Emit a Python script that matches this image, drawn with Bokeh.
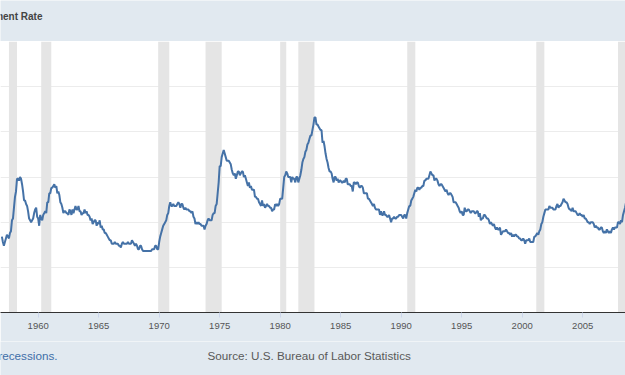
from bokeh.plotting import figure
from bokeh.layouts import column
from bokeh.models import Range1d, FixedTicker, Label
from bokeh.embed import file_html
from bokeh.resources import INLINE

title_text = "Civilian Unemployment Rate"
note_text = "Shaded areas indicate U.S. recessions."
source_text = "Source: U.S. Bureau of Labor Statistics"

# Monthly civilian unemployment rate (%), starting January 1957
first_year = 1957
unrate = [
    4.2, 3.9, 3.7, 3.9, 4.1, 4.3, 4.2, 4.1, 4.4, 4.5, 5.1, 5.2,   # 1957
    5.8, 6.4, 6.7, 7.4, 7.4, 7.3, 7.5, 7.4, 7.1, 6.7, 6.2, 6.2,   # 1958
    6.0, 5.9, 5.6, 5.2, 5.1, 5.0, 5.1, 5.2, 5.5, 5.7, 5.8, 5.3,   # 1959
    5.2, 4.8, 5.4, 5.2, 5.1, 5.4, 5.5, 5.6, 5.5, 6.1, 6.1, 6.6,   # 1960
    6.6, 6.9, 6.9, 7.0, 7.1, 6.9, 7.0, 6.6, 6.7, 6.5, 6.1, 6.0,   # 1961
    5.8, 5.5, 5.6, 5.6, 5.5, 5.5, 5.4, 5.7, 5.6, 5.4, 5.7, 5.5,   # 1962
    5.7, 5.9, 5.7, 5.7, 5.9, 5.6, 5.6, 5.4, 5.5, 5.5, 5.7, 5.5,   # 1963
    5.6, 5.4, 5.4, 5.3, 5.1, 5.2, 4.9, 5.0, 5.1, 5.1, 4.8, 5.0,   # 1964
    4.9, 5.1, 4.7, 4.8, 4.6, 4.6, 4.4, 4.4, 4.3, 4.2, 4.1, 4.0,   # 1965
    4.0, 3.8, 3.8, 3.8, 3.9, 3.8, 3.8, 3.8, 3.7, 3.7, 3.6, 3.8,   # 1966
    3.9, 3.8, 3.8, 3.8, 3.8, 3.9, 3.8, 3.8, 3.8, 4.0, 3.9, 3.8,   # 1967
    3.7, 3.8, 3.7, 3.5, 3.5, 3.7, 3.7, 3.5, 3.4, 3.4, 3.4, 3.4,   # 1968
    3.4, 3.4, 3.4, 3.4, 3.4, 3.5, 3.5, 3.5, 3.7, 3.7, 3.5, 3.5,   # 1969
    3.9, 4.2, 4.4, 4.6, 4.8, 4.9, 5.0, 5.1, 5.4, 5.5, 5.9, 6.1,   # 1970
    5.9, 5.9, 6.0, 5.9, 5.9, 5.9, 6.0, 6.1, 6.0, 5.8, 6.0, 6.0,   # 1971
    5.8, 5.7, 5.8, 5.7, 5.7, 5.7, 5.6, 5.6, 5.5, 5.6, 5.3, 5.2,   # 1972
    4.9, 5.0, 4.9, 5.0, 4.9, 4.9, 4.8, 4.8, 4.8, 4.6, 4.8, 4.9,   # 1973
    5.1, 5.2, 5.1, 5.1, 5.1, 5.4, 5.5, 5.5, 5.9, 6.0, 6.6, 7.2,   # 1974
    8.1, 8.1, 8.6, 8.8, 9.0, 8.8, 8.6, 8.4, 8.4, 8.4, 8.3, 8.2,   # 1975
    7.9, 7.7, 7.6, 7.7, 7.4, 7.6, 7.8, 7.8, 7.6, 7.7, 7.8, 7.8,   # 1976
    7.5, 7.6, 7.4, 7.2, 7.0, 7.2, 6.9, 7.0, 6.8, 6.8, 6.8, 6.4,   # 1977
    6.4, 6.3, 6.3, 6.1, 6.0, 5.9, 6.2, 5.9, 6.0, 5.8, 5.9, 6.0,   # 1978
    5.9, 5.9, 5.8, 5.8, 5.6, 5.7, 5.7, 6.0, 5.9, 6.0, 5.9, 6.0,   # 1979
    6.3, 6.3, 6.3, 6.9, 7.5, 7.6, 7.8, 7.7, 7.5, 7.5, 7.5, 7.2,   # 1980
    7.5, 7.4, 7.4, 7.2, 7.5, 7.5, 7.2, 7.4, 7.6, 7.9, 8.3, 8.5,   # 1981
    8.6, 8.9, 9.0, 9.3, 9.4, 9.6, 9.8, 9.8, 10.1, 10.4, 10.8, 10.8,  # 1982
    10.4, 10.4, 10.3, 10.2, 10.1, 10.1, 9.4, 9.5, 9.2, 8.8, 8.5, 8.3,  # 1983
    8.0, 7.8, 7.8, 7.7, 7.4, 7.2, 7.5, 7.5, 7.3, 7.4, 7.2, 7.3,   # 1984
    7.3, 7.2, 7.2, 7.3, 7.2, 7.4, 7.4, 7.1, 7.1, 7.1, 7.0, 7.0,   # 1985
    6.7, 7.2, 7.2, 7.1, 7.2, 7.2, 7.0, 6.9, 7.0, 7.0, 6.9, 6.6,   # 1986
    6.6, 6.6, 6.6, 6.3, 6.3, 6.2, 6.1, 6.0, 5.9, 6.0, 5.8, 5.7,   # 1987
    5.7, 5.7, 5.7, 5.4, 5.6, 5.4, 5.4, 5.6, 5.4, 5.4, 5.3, 5.3,   # 1988
    5.4, 5.2, 5.0, 5.2, 5.2, 5.3, 5.2, 5.2, 5.3, 5.3, 5.4, 5.4,   # 1989
    5.4, 5.3, 5.2, 5.4, 5.4, 5.2, 5.5, 5.7, 5.9, 5.9, 6.2, 6.3,   # 1990
    6.4, 6.6, 6.8, 6.7, 6.9, 6.9, 6.8, 6.9, 6.9, 7.0, 7.0, 7.3,   # 1991
    7.3, 7.4, 7.4, 7.4, 7.6, 7.8, 7.7, 7.6, 7.6, 7.3, 7.4, 7.4,   # 1992
    7.3, 7.1, 7.0, 7.1, 7.1, 7.0, 6.9, 6.8, 6.7, 6.8, 6.6, 6.5,   # 1993
    6.6, 6.6, 6.5, 6.4, 6.1, 6.1, 6.1, 6.0, 5.9, 5.8, 5.6, 5.5,   # 1994
    5.6, 5.4, 5.4, 5.8, 5.6, 5.6, 5.7, 5.7, 5.6, 5.5, 5.6, 5.6,   # 1995
    5.6, 5.5, 5.5, 5.6, 5.6, 5.3, 5.5, 5.1, 5.2, 5.2, 5.4, 5.4,   # 1996
    5.3, 5.2, 5.2, 5.1, 4.9, 5.0, 4.9, 4.8, 4.9, 4.7, 4.6, 4.7,   # 1997
    4.6, 4.6, 4.7, 4.3, 4.4, 4.5, 4.5, 4.5, 4.6, 4.5, 4.4, 4.4,   # 1998
    4.3, 4.4, 4.2, 4.3, 4.2, 4.3, 4.3, 4.2, 4.2, 4.1, 4.1, 4.0,   # 1999
    4.0, 4.1, 4.0, 3.8, 4.0, 4.0, 4.0, 4.1, 3.9, 3.9, 3.9, 3.9,   # 2000
    4.2, 4.2, 4.3, 4.4, 4.3, 4.5, 4.6, 4.9, 5.0, 5.3, 5.5, 5.7,   # 2001
    5.7, 5.7, 5.7, 5.9, 5.8, 5.8, 5.8, 5.7, 5.7, 5.7, 5.9, 6.0,   # 2002
    5.8, 5.9, 5.9, 6.0, 6.1, 6.3, 6.2, 6.1, 6.1, 6.0, 5.8, 5.7,   # 2003
    5.7, 5.6, 5.8, 5.6, 5.6, 5.6, 5.5, 5.4, 5.4, 5.5, 5.4, 5.4,   # 2004
    5.3, 5.4, 5.2, 5.2, 5.1, 5.0, 5.0, 4.9, 5.0, 5.0, 5.0, 4.9,   # 2005
    4.7, 4.8, 4.7, 4.7, 4.6, 4.6, 4.7, 4.7, 4.5, 4.4, 4.5, 4.4,   # 2006
    4.6, 4.5, 4.4, 4.5, 4.4, 4.6, 4.7, 4.6, 4.7, 4.7, 4.7, 5.0,   # 2007
    5.0, 4.9, 5.1, 5.0, 5.4, 5.6, 5.8, 6.1, 6.1, 6.5, 6.8, 7.3,   # 2008
]
months = [first_year + i / 12 for i in range(len(unrate))]

# NBER recessions (start / end, fractional years)
rec_start = [1957 + 7/12, 1960 + 3/12, 1969 + 11/12, 1973 + 10/12, 1980.0,
             1981 + 6/12, 1990 + 6/12, 2001 + 2/12, 2007 + 11/12]
rec_end = [1958 + 3/12, 1961 + 1/12, 1970 + 10/12, 1975 + 2/12, 1980 + 6/12,
           1982 + 10/12, 1991 + 2/12, 2001 + 10/12, 2009 + 5/12]

x_ticks = [1960, 1965, 1970, 1975, 1980, 1985, 1990, 1995, 2000, 2005]
y_grid = [2.5, 5, 7.5, 10, 12.5]

BG = "#e1e9f0"
FONT = "Liberation Sans"
W = 625


def band(height):
    """A plain strip (header / footer) whose frame covers the whole canvas."""
    f = figure(frame_width=W, frame_height=height,
               x_range=Range1d(0, W), y_range=Range1d(0, height),
               x_axis_location=None, y_axis_location=None,
               output_backend="svg", toolbar_location=None,
               min_border=0)
    f.background_fill_color = BG
    f.border_fill_color = BG
    f.outline_line_color = None
    f.xgrid.visible = False
    f.ygrid.visible = False
    return f


# ---- header ----
HEAD_H = 41
head = band(HEAD_H)
head.add_layout(Label(x=42, y=HEAD_H - 16.3, text=title_text,
                      text_align="right", text_baseline="middle",
                      text_font=FONT, text_font_size="10px",
                      text_font_style="bold", text_color="#444444"))

# ---- main chart ----
p = figure(frame_width=W, frame_height=271,
           x_range=Range1d(1956.886, 2008.539), y_range=Range1d(0, 15),
           output_backend="svg", toolbar_location=None,
           min_border_left=0, min_border_right=0,
           min_border_top=0, min_border_bottom=29)
p.background_fill_color = "white"
p.border_fill_color = BG
p.outline_line_color = None

p.quad(left=rec_start, right=rec_end, bottom=0, top=15,
       fill_color="#e5e5e5", line_color=None)
p.line(months, unrate, line_color="#4572a7", line_width=2)

p.yaxis.visible = False
p.ygrid.ticker = FixedTicker(ticks=y_grid)
p.ygrid.grid_line_color = "#ececec"
p.xgrid.grid_line_color = None

xa = p.xaxis[0]
xa.ticker = FixedTicker(ticks=x_ticks)
xa.axis_line_color = "#333333"
xa.axis_line_width = 1
xa.major_tick_line_color = "#ccd6eb"
xa.major_tick_out = 5
xa.major_tick_in = 0
xa.minor_tick_line_color = None
xa.major_label_standoff = 5
xa.major_label_text_font = FONT
xa.major_label_text_font_size = "9.5px"
xa.major_label_text_color = "#555555"

# ---- footer ----
FOOT_H = 375 - HEAD_H - 271 - 29
foot = band(FOOT_H)
foot.add_layout(Label(x=57, y=FOOT_H - 14, text=note_text,
                      text_align="right", text_baseline="middle",
                      text_font=FONT, text_font_size="11.7px",
                      text_color="#3e6ea8"))
foot.add_layout(Label(x=207, y=FOOT_H - 14, text=source_text,
                      text_align="left", text_baseline="middle",
                      text_font=FONT, text_font_size="11.7px",
                      text_color="#595959"))

layout = column(head, p, foot, spacing=0)
open("out.html", "w").write(file_html(layout, INLINE))
